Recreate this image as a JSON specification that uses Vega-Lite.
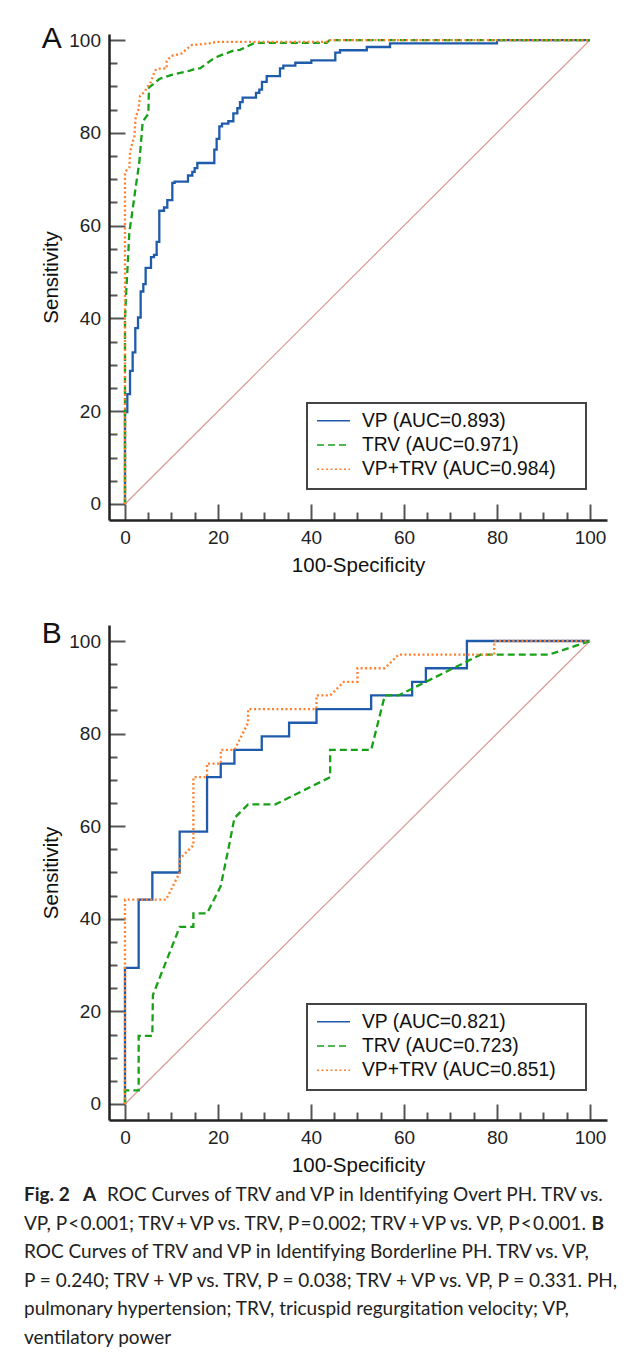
{
  "$schema": "https://vega.github.io/schema/vega-lite/v6.json",
  "padding": {"left": 24, "top": 23, "right": 0, "bottom": 0},
  "background": "white",
  "config": {
    "view": {"stroke": null},
    "font": "Liberation Sans",
    "axis": {"grid": false, "domainColor": "#222", "domainWidth": 2.5, "tickColor": "#555", "tickWidth": 2, "labelFont": "Liberation Sans", "labelFontSize": 19, "labelColor": "#222", "labelPadding": 24.5, "labelFlush": false, "labelOverlap": false, "titleFont": "Liberation Sans", "titleFontSize": 20.5, "titleFontWeight": "normal", "titleColor": "#111"},
    "legend": {"strokeWidth": 2}
  },
  "datasets": {
    "diag": [{"fpr": 0, "sens": 0}, {"fpr": 100, "sens": 100}],
    "rocA": [
      {"series":"VP","i":0,"fpr":0,"sens":0},{"series":"VP","i":1,"fpr":0,"sens":19.8},{"series":"VP","i":2,"fpr":0.5,"sens":19.8},{"series":"VP","i":3,"fpr":0.5,"sens":23.7},{"series":"VP","i":4,"fpr":1.08,"sens":23.7},{"series":"VP","i":5,"fpr":1.08,"sens":28.7},{"series":"VP","i":6,"fpr":1.65,"sens":28.7},{"series":"VP","i":7,"fpr":1.65,"sens":32.7},{"series":"VP","i":8,"fpr":2.22,"sens":32.7},{"series":"VP","i":9,"fpr":2.22,"sens":37.9},{"series":"VP","i":10,"fpr":2.8,"sens":37.9},{"series":"VP","i":11,"fpr":2.8,"sens":40.2},{"series":"VP","i":12,"fpr":3.37,"sens":40.2},{"series":"VP","i":13,"fpr":3.37,"sens":45.8},{"series":"VP","i":14,"fpr":3.94,"sens":45.8},{"series":"VP","i":15,"fpr":3.94,"sens":47.4},{"series":"VP","i":16,"fpr":4.44,"sens":47.4},{"series":"VP","i":17,"fpr":4.44,"sens":50.9},{"series":"VP","i":18,"fpr":5.59,"sens":50.9},{"series":"VP","i":19,"fpr":5.59,"sens":53.2},{"series":"VP","i":20,"fpr":6.24,"sens":53.2},{"series":"VP","i":21,"fpr":6.24,"sens":53.7},{"series":"VP","i":22,"fpr":6.81,"sens":53.7},{"series":"VP","i":23,"fpr":6.81,"sens":56.5},{"series":"VP","i":24,"fpr":7.38,"sens":56.5},{"series":"VP","i":25,"fpr":7.38,"sens":63.2},{"series":"VP","i":26,"fpr":8.39,"sens":63.2},{"series":"VP","i":27,"fpr":8.39,"sens":63.9},{"series":"VP","i":28,"fpr":9.1,"sens":63.9},{"series":"VP","i":29,"fpr":9.1,"sens":65.5},{"series":"VP","i":30,"fpr":10.18,"sens":65.5},{"series":"VP","i":31,"fpr":10.18,"sens":69.2},{"series":"VP","i":32,"fpr":10.68,"sens":69.2},{"series":"VP","i":33,"fpr":10.68,"sens":69.5},{"series":"VP","i":34,"fpr":13.55,"sens":69.5},{"series":"VP","i":35,"fpr":13.55,"sens":70.8},{"series":"VP","i":36,"fpr":14.48,"sens":70.8},{"series":"VP","i":37,"fpr":14.48,"sens":71.6},{"series":"VP","i":38,"fpr":14.98,"sens":71.6},{"series":"VP","i":39,"fpr":14.98,"sens":72.4},{"series":"VP","i":40,"fpr":15.56,"sens":72.4},{"series":"VP","i":41,"fpr":15.56,"sens":73.5},{"series":"VP","i":42,"fpr":19.21,"sens":73.5},{"series":"VP","i":43,"fpr":19.21,"sens":76.4},{"series":"VP","i":44,"fpr":19.71,"sens":76.4},{"series":"VP","i":45,"fpr":19.71,"sens":78.7},{"series":"VP","i":46,"fpr":20.29,"sens":78.7},{"series":"VP","i":47,"fpr":20.29,"sens":81.4},{"series":"VP","i":48,"fpr":20.86,"sens":81.4},{"series":"VP","i":49,"fpr":20.86,"sens":82.0},{"series":"VP","i":50,"fpr":22.22,"sens":82.0},{"series":"VP","i":51,"fpr":22.22,"sens":82.5},{"series":"VP","i":52,"fpr":23.3,"sens":82.5},{"series":"VP","i":53,"fpr":23.3,"sens":84.2},{"series":"VP","i":54,"fpr":24.16,"sens":84.2},{"series":"VP","i":55,"fpr":24.16,"sens":85.3},{"series":"VP","i":56,"fpr":24.73,"sens":85.3},{"series":"VP","i":57,"fpr":24.73,"sens":86.6},{"series":"VP","i":58,"fpr":25.3,"sens":86.6},{"series":"VP","i":59,"fpr":25.3,"sens":87.6},{"series":"VP","i":60,"fpr":28.17,"sens":87.6},{"series":"VP","i":61,"fpr":28.17,"sens":88.6},{"series":"VP","i":62,"fpr":28.89,"sens":88.6},{"series":"VP","i":63,"fpr":28.89,"sens":89.3},{"series":"VP","i":64,"fpr":29.46,"sens":89.3},{"series":"VP","i":65,"fpr":29.46,"sens":91.0},{"series":"VP","i":66,"fpr":30.47,"sens":91.0},{"series":"VP","i":67,"fpr":30.47,"sens":92.2},{"series":"VP","i":68,"fpr":33.33,"sens":92.2},{"series":"VP","i":69,"fpr":33.33,"sens":93.9},{"series":"VP","i":70,"fpr":34.05,"sens":93.9},{"series":"VP","i":71,"fpr":34.05,"sens":94.5},{"series":"VP","i":72,"fpr":36.63,"sens":94.5},{"series":"VP","i":73,"fpr":36.63,"sens":95.1},{"series":"VP","i":74,"fpr":40.07,"sens":95.1},{"series":"VP","i":75,"fpr":40.07,"sens":95.6},{"series":"VP","i":76,"fpr":45.23,"sens":95.6},{"series":"VP","i":77,"fpr":45.23,"sens":97.3},{"series":"VP","i":78,"fpr":46.24,"sens":97.3},{"series":"VP","i":79,"fpr":46.24,"sens":97.8},{"series":"VP","i":80,"fpr":52,"sens":97.8},{"series":"VP","i":81,"fpr":52,"sens":98.5},{"series":"VP","i":82,"fpr":57,"sens":98.5},{"series":"VP","i":83,"fpr":57,"sens":99.3},{"series":"VP","i":84,"fpr":80,"sens":99.3},{"series":"VP","i":85,"fpr":80,"sens":100},{"series":"VP","i":86,"fpr":100,"sens":100},
      {"series":"TRV","i":0,"fpr":0,"sens":0},{"series":"TRV","i":1,"fpr":0,"sens":39.9},{"series":"TRV","i":2,"fpr":0.22,"sens":44.9},{"series":"TRV","i":3,"fpr":0.57,"sens":51.4},{"series":"TRV","i":4,"fpr":0.93,"sens":58.5},{"series":"TRV","i":5,"fpr":1.43,"sens":62.0},{"series":"TRV","i":6,"fpr":2.29,"sens":68.2},{"series":"TRV","i":7,"fpr":3.08,"sens":73.6},{"series":"TRV","i":8,"fpr":3.8,"sens":82.3},{"series":"TRV","i":9,"fpr":4.16,"sens":82.9},{"series":"TRV","i":10,"fpr":5.02,"sens":84.1},{"series":"TRV","i":11,"fpr":5.16,"sens":89.8},{"series":"TRV","i":12,"fpr":6.09,"sens":90.5},{"series":"TRV","i":13,"fpr":7.38,"sens":91.6},{"series":"TRV","i":14,"fpr":10.04,"sens":92.5},{"series":"TRV","i":15,"fpr":13.98,"sens":93.4},{"series":"TRV","i":16,"fpr":15.41,"sens":93.9},{"series":"TRV","i":17,"fpr":16.13,"sens":93.9},{"series":"TRV","i":18,"fpr":19.0,"sens":96.0},{"series":"TRV","i":19,"fpr":20.3,"sens":96.6},{"series":"TRV","i":20,"fpr":23.3,"sens":97.7},{"series":"TRV","i":21,"fpr":24.73,"sens":97.9},{"series":"TRV","i":22,"fpr":27.96,"sens":99.4},{"series":"TRV","i":23,"fpr":43.4,"sens":99.4},{"series":"TRV","i":24,"fpr":44,"sens":100},{"series":"TRV","i":25,"fpr":100,"sens":100},
      {"series":"VP+TRV","i":0,"fpr":0,"sens":0},{"series":"VP+TRV","i":1,"fpr":0,"sens":71.5},{"series":"VP+TRV","i":2,"fpr":0.22,"sens":71.8},{"series":"VP+TRV","i":3,"fpr":0.93,"sens":72.5},{"series":"VP+TRV","i":4,"fpr":1.08,"sens":75.8},{"series":"VP+TRV","i":5,"fpr":1.65,"sens":78.1},{"series":"VP+TRV","i":6,"fpr":2.0,"sens":79.0},{"series":"VP+TRV","i":7,"fpr":2.29,"sens":83.3},{"series":"VP+TRV","i":8,"fpr":2.87,"sens":85.0},{"series":"VP+TRV","i":9,"fpr":3.23,"sens":87.9},{"series":"VP+TRV","i":10,"fpr":4.3,"sens":88.9},{"series":"VP+TRV","i":11,"fpr":4.66,"sens":89.8},{"series":"VP+TRV","i":12,"fpr":5.38,"sens":90.5},{"series":"VP+TRV","i":13,"fpr":6.45,"sens":93.4},{"series":"VP+TRV","i":14,"fpr":6.95,"sens":93.8},{"series":"VP+TRV","i":15,"fpr":8.96,"sens":93.9},{"series":"VP+TRV","i":16,"fpr":8.96,"sens":95.5},{"series":"VP+TRV","i":17,"fpr":10.04,"sens":96.6},{"series":"VP+TRV","i":18,"fpr":12.19,"sens":97.1},{"series":"VP+TRV","i":19,"fpr":13.4,"sens":98.2},{"series":"VP+TRV","i":20,"fpr":14.34,"sens":98.9},{"series":"VP+TRV","i":21,"fpr":19.0,"sens":99.4},{"series":"VP+TRV","i":22,"fpr":19.35,"sens":99.6},{"series":"VP+TRV","i":23,"fpr":43.4,"sens":99.6},{"series":"VP+TRV","i":24,"fpr":44,"sens":100},{"series":"VP+TRV","i":25,"fpr":100,"sens":100}
    ],
    "rocB": [
      {"series":"VP","i":0,"fpr":0,"sens":0},{"series":"VP","i":1,"fpr":0,"sens":29.41},{"series":"VP","i":2,"fpr":2.94,"sens":29.41},{"series":"VP","i":3,"fpr":2.94,"sens":44.12},{"series":"VP","i":4,"fpr":5.88,"sens":44.12},{"series":"VP","i":5,"fpr":5.88,"sens":50},{"series":"VP","i":6,"fpr":11.76,"sens":50},{"series":"VP","i":7,"fpr":11.76,"sens":58.82},{"series":"VP","i":8,"fpr":17.65,"sens":58.82},{"series":"VP","i":9,"fpr":17.65,"sens":70.59},{"series":"VP","i":10,"fpr":20.59,"sens":70.59},{"series":"VP","i":11,"fpr":20.59,"sens":73.53},{"series":"VP","i":12,"fpr":23.53,"sens":73.53},{"series":"VP","i":13,"fpr":23.53,"sens":76.47},{"series":"VP","i":14,"fpr":29.41,"sens":76.47},{"series":"VP","i":15,"fpr":29.41,"sens":79.41},{"series":"VP","i":16,"fpr":35.29,"sens":79.41},{"series":"VP","i":17,"fpr":35.29,"sens":82.35},{"series":"VP","i":18,"fpr":41.18,"sens":82.35},{"series":"VP","i":19,"fpr":41.18,"sens":85.29},{"series":"VP","i":20,"fpr":52.94,"sens":85.29},{"series":"VP","i":21,"fpr":52.94,"sens":88.24},{"series":"VP","i":22,"fpr":61.76,"sens":88.24},{"series":"VP","i":23,"fpr":61.76,"sens":91.18},{"series":"VP","i":24,"fpr":64.71,"sens":91.18},{"series":"VP","i":25,"fpr":64.71,"sens":94.12},{"series":"VP","i":26,"fpr":73.53,"sens":94.12},{"series":"VP","i":27,"fpr":73.53,"sens":100},{"series":"VP","i":28,"fpr":100,"sens":100},
      {"series":"TRV","i":0,"fpr":0,"sens":0},{"series":"TRV","i":1,"fpr":0,"sens":2.94},{"series":"TRV","i":2,"fpr":2.94,"sens":2.94},{"series":"TRV","i":3,"fpr":2.94,"sens":14.71},{"series":"TRV","i":4,"fpr":5.88,"sens":14.71},{"series":"TRV","i":5,"fpr":6.0,"sens":23.53},{"series":"TRV","i":6,"fpr":11.76,"sens":38.24},{"series":"TRV","i":7,"fpr":14.71,"sens":38.24},{"series":"TRV","i":8,"fpr":14.71,"sens":41.18},{"series":"TRV","i":9,"fpr":17.65,"sens":41.18},{"series":"TRV","i":10,"fpr":20.59,"sens":47.06},{"series":"TRV","i":11,"fpr":22.4,"sens":55.9},{"series":"TRV","i":12,"fpr":23.53,"sens":61.76},{"series":"TRV","i":13,"fpr":26.47,"sens":64.71},{"series":"TRV","i":14,"fpr":32.35,"sens":64.71},{"series":"TRV","i":15,"fpr":44.12,"sens":70.59},{"series":"TRV","i":16,"fpr":44.12,"sens":76.47},{"series":"TRV","i":17,"fpr":52.94,"sens":76.47},{"series":"TRV","i":18,"fpr":55.88,"sens":88.24},{"series":"TRV","i":19,"fpr":58.82,"sens":88.24},{"series":"TRV","i":20,"fpr":76.47,"sens":97.06},{"series":"TRV","i":21,"fpr":91.18,"sens":97.06},{"series":"TRV","i":22,"fpr":100,"sens":100},
      {"series":"VP+TRV","i":0,"fpr":0,"sens":0},{"series":"VP+TRV","i":1,"fpr":0,"sens":44.12},{"series":"VP+TRV","i":2,"fpr":8.82,"sens":44.12},{"series":"VP+TRV","i":3,"fpr":11.76,"sens":50},{"series":"VP+TRV","i":4,"fpr":11.76,"sens":52.94},{"series":"VP+TRV","i":5,"fpr":14.71,"sens":55.88},{"series":"VP+TRV","i":6,"fpr":14.71,"sens":70.59},{"series":"VP+TRV","i":7,"fpr":17.65,"sens":70.59},{"series":"VP+TRV","i":8,"fpr":17.65,"sens":73.53},{"series":"VP+TRV","i":9,"fpr":20.59,"sens":73.53},{"series":"VP+TRV","i":10,"fpr":20.59,"sens":76.47},{"series":"VP+TRV","i":11,"fpr":23.53,"sens":76.47},{"series":"VP+TRV","i":12,"fpr":26.47,"sens":82.35},{"series":"VP+TRV","i":13,"fpr":26.47,"sens":85.29},{"series":"VP+TRV","i":14,"fpr":41.18,"sens":85.29},{"series":"VP+TRV","i":15,"fpr":41.18,"sens":88.24},{"series":"VP+TRV","i":16,"fpr":44.12,"sens":88.24},{"series":"VP+TRV","i":17,"fpr":47.06,"sens":91.18},{"series":"VP+TRV","i":18,"fpr":50,"sens":91.18},{"series":"VP+TRV","i":19,"fpr":50,"sens":94.12},{"series":"VP+TRV","i":20,"fpr":55.88,"sens":94.12},{"series":"VP+TRV","i":21,"fpr":58.82,"sens":97.06},{"series":"VP+TRV","i":22,"fpr":79.41,"sens":97.06},{"series":"VP+TRV","i":23,"fpr":79.41,"sens":100},{"series":"VP+TRV","i":24,"fpr":100,"sens":100}
    ],
    "caption": [
      {"line": 1, "part": "b", "text": "Fig. 2\u00a0\u00a0\u00a0A"},
      {"line": 1, "part": "r1", "text": "ROC Curves of TRV and VP in Identifying Overt PH. TRV vs."},
      {"line": 2, "part": "r", "text": "VP, P\u200a<\u200a0.001; TRV\u2009+\u2009VP vs. TRV, P\u200a=\u200a0.002; TRV\u2009+\u2009VP vs. VP, P\u200a<\u200a0.001."},
      {"line": 2, "part": "bR", "text": "B"},
      {"line": 3, "part": "r", "text": "ROC Curves of TRV and VP in Identifying Borderline PH. TRV vs. VP,"},
      {"line": 4, "part": "r", "text": "P = 0.240; TRV + VP vs. TRV, P = 0.038; TRV + VP vs. VP, P = 0.331. PH,"},
      {"line": 5, "part": "r", "text": "pulmonary hypertension; TRV, tricuspid regurgitation velocity; VP,"},
      {"line": 6, "part": "r", "text": "ventilatory power"}
    ]
  },
  "vconcat": [
    {
      "vconcat": [
        {
          "width": 498, "height": 486,
          "title": {"text": "A", "anchor": "start", "frame": "bounds", "fontSize": 30, "fontWeight": "normal", "color": "#111", "offset": -46.5, "baseline": "alphabetic"},
          "encoding": {
            "x": {"field": "fpr", "type": "quantitative", "scale": {"domain": [-3.44, 103.66], "nice": false, "zero": false},
                  "axis": {"title": "100-Specificity", "values": [0,5,10,15,20,25,30,35,40,45,50,55,60,65,70,75,80,85,90,95,100], "labelExpr": "datum.value % 20 === 0 ? datum.label : ''", "tickSize": {"condition": {"test": "datum.value % 20 === 0", "value": -16}, "value": -8}, "titlePadding": 0}},
            "y": {"field": "sens", "type": "quantitative", "scale": {"domain": [-3.45, 101.3], "nice": false, "zero": false},
                  "axis": {"title": "Sensitivity", "values": [0,5,10,15,20,25,30,35,40,45,50,55,60,65,70,75,80,85,90,95,100], "labelExpr": "datum.value % 20 === 0 ? datum.label : ''", "tickSize": {"condition": {"test": "datum.value % 20 === 0", "value": -16}, "value": -8}, "titlePadding": 7}}
          },
          "layer": [
            {"data": {"name": "diag"}, "mark": {"type": "line", "color": "#d99a92", "strokeWidth": 1.2}},
            {"data": {"name": "rocA"}, "mark": {"type": "line", "strokeWidth": 2.3},
             "encoding": {
               "order": {"field": "i", "type": "quantitative"},
               "color": {"field": "series", "type": "nominal", "scale": {"domain": ["VP", "TRV", "VP+TRV"], "range": ["#1f5bab", "#18a018", "#ff7f2a"]},
                 "legend": {"title": ".", "titleOrient": "right", "titleColor": "#ffffff", "titleFontSize": 10, "titlePadding": 18, "orient": "none", "legendX": 198, "legendY": 369, "labelExpr": "{'VP': 'VP (AUC=0.893)', 'TRV': 'TRV (AUC=0.971)', 'VP+TRV': 'VP+TRV (AUC=0.984)'}[datum.label]", "symbolType": "stroke", "symbolSize": 1089, "symbolStrokeWidth": 1.6, "clipHeight": 17.4, "rowPadding": 4.3, "padding": 9, "labelOffset": 11, "labelFontSize": 19.3, "labelFont": "Liberation Sans", "labelColor": "#111", "labelLimit": 400, "strokeColor": "#444", "fillColor": "white"}},
               "strokeDash": {"field": "series", "type": "nominal", "scale": {"domain": ["VP", "TRV", "VP+TRV"], "range": [[1, 0], [7, 4], [2, 2.5]]},
                 "legend": {"title": ".", "titleOrient": "right", "titleColor": "#ffffff", "titleFontSize": 10, "titlePadding": 18, "orient": "none", "legendX": 198, "legendY": 369, "labelExpr": "{'VP': 'VP (AUC=0.893)', 'TRV': 'TRV (AUC=0.971)', 'VP+TRV': 'VP+TRV (AUC=0.984)'}[datum.label]", "symbolType": "stroke", "symbolSize": 1089, "symbolStrokeWidth": 1.6, "clipHeight": 17.4, "rowPadding": 4.3, "padding": 9, "labelOffset": 11, "labelFontSize": 19.3, "labelFont": "Liberation Sans", "labelColor": "#111", "labelLimit": 400, "strokeColor": "#444", "fillColor": "white"}}
             }}
          ]
        },
        {
          "width": 498, "height": 495,
          "title": {"text": "B", "anchor": "start", "frame": "bounds", "fontSize": 30, "fontWeight": "normal", "color": "#111", "offset": -48, "baseline": "alphabetic"},
          "encoding": {
            "x": {"field": "fpr", "type": "quantitative", "scale": {"domain": [-3.44, 103.66], "nice": false, "zero": false},
                  "axis": {"title": "100-Specificity", "values": [0,5,10,15,20,25,30,35,40,45,50,55,60,65,70,75,80,85,90,95,100], "labelExpr": "datum.value % 20 === 0 ? datum.label : ''", "tickSize": {"condition": {"test": "datum.value % 20 === 0", "value": -16}, "value": -8}, "titlePadding": 0}},
            "y": {"field": "sens", "type": "quantitative", "scale": {"domain": [-3.46, 103.46], "nice": false, "zero": false},
                  "axis": {"title": "Sensitivity", "values": [0,5,10,15,20,25,30,35,40,45,50,55,60,65,70,75,80,85,90,95,100], "labelExpr": "datum.value % 20 === 0 ? datum.label : ''", "tickSize": {"condition": {"test": "datum.value % 20 === 0", "value": -16}, "value": -8}, "titlePadding": 7}}
          },
          "layer": [
            {"data": {"name": "diag"}, "mark": {"type": "line", "color": "#d99a92", "strokeWidth": 1.2}},
            {"data": {"name": "rocB"}, "mark": {"type": "line", "strokeWidth": 2.3},
             "encoding": {
               "order": {"field": "i", "type": "quantitative"},
               "color": {"field": "series", "type": "nominal", "scale": {"domain": ["VP", "TRV", "VP+TRV"], "range": ["#1f5bab", "#18a018", "#ff7f2a"]},
                 "legend": {"title": ".", "titleOrient": "right", "titleColor": "#ffffff", "titleFontSize": 10, "titlePadding": 18, "orient": "none", "legendX": 198, "legendY": 379, "labelExpr": "{'VP': 'VP (AUC=0.821)', 'TRV': 'TRV (AUC=0.723)', 'VP+TRV': 'VP+TRV (AUC=0.851)'}[datum.label]", "symbolType": "stroke", "symbolSize": 1089, "symbolStrokeWidth": 1.6, "clipHeight": 17.4, "rowPadding": 4.3, "padding": 9, "labelOffset": 11, "labelFontSize": 19.3, "labelFont": "Liberation Sans", "labelColor": "#111", "labelLimit": 400, "strokeColor": "#444", "fillColor": "white"}},
               "strokeDash": {"field": "series", "type": "nominal", "scale": {"domain": ["VP", "TRV", "VP+TRV"], "range": [[1, 0], [7, 4], [2, 2.5]]},
                 "legend": {"title": ".", "titleOrient": "right", "titleColor": "#ffffff", "titleFontSize": 10, "titlePadding": 18, "orient": "none", "legendX": 198, "legendY": 379, "labelExpr": "{'VP': 'VP (AUC=0.821)', 'TRV': 'TRV (AUC=0.723)', 'VP+TRV': 'VP+TRV (AUC=0.851)'}[datum.label]", "symbolType": "stroke", "symbolSize": 1089, "symbolStrokeWidth": 1.6, "clipHeight": 17.4, "rowPadding": 4.3, "padding": 9, "labelOffset": 11, "labelFontSize": 19.3, "labelFont": "Liberation Sans", "labelColor": "#111", "labelLimit": 400, "strokeColor": "#444", "fillColor": "white"}}
             }}
          ]
        }
      ],
      "spacing": 43,
      "resolve": {"scale": {"color": "independent", "strokeDash": "independent"}, "legend": {"color": "independent", "strokeDash": "independent"}}
    },
    {
      "width": 498, "height": 171,
      "data": {"name": "caption"},
      "encoding": {"y": {"field": "line", "type": "ordinal", "axis": null}, "x": {"value": 0}, "text": {"field": "text"}},
      "layer": [
        {"transform": [{"filter": "datum.part === 'r'"}], "mark": {"type": "text", "align": "left", "baseline": "middle", "font": "Lato", "fontSize": 19, "color": "#222", "dx": -85}},
        {"transform": [{"filter": "datum.part === 'r1'"}], "mark": {"type": "text", "align": "left", "baseline": "middle", "font": "Lato", "fontSize": 19, "color": "#222", "dx": -2}},
        {"transform": [{"filter": "datum.part === 'b'"}], "mark": {"type": "text", "align": "left", "baseline": "middle", "font": "Lato", "fontSize": 19, "fontWeight": "bold", "color": "#222", "dx": -85}},
        {"transform": [{"filter": "datum.part === 'bR'"}], "mark": {"type": "text", "align": "right", "baseline": "middle", "font": "Lato", "fontSize": 19, "fontWeight": "bold", "color": "#222", "dx": -3}, "encoding": {"x": {"value": "width"}}}
      ]
    }
  ],
  "spacing": 5
}
